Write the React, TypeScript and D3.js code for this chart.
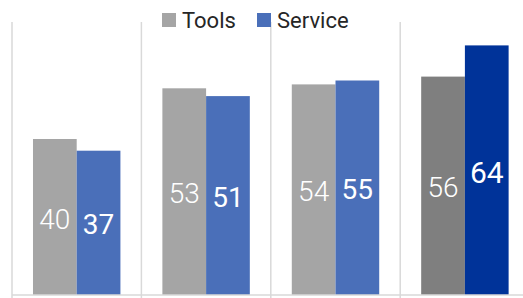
import React, { useEffect, useRef } from 'react';
import * as d3 from 'd3';

// groups (category names are cropped out of the picture)
const categories = ['G1', 'G2', 'G3', 'G4'];
const seriesNames = ['Tools', 'Service'];
const tools = [40, 53, 54, 56];
const service = [37, 51, 55, 64];

const App = () => {
    const svgRef = useRef<SVGSVGElement>(null);

    useEffect(() => {
        document.body.style.margin = '0';

        const width = 523;
        const height = 298;
        const svg = d3.select(svgRef.current);
        svg.selectAll('*').remove();
        svg.attr('width', width).attr('height', height);

        const font = "Roboto, 'Open Sans', sans-serif";
        const step = 129.4;
        const left = 12;

        const x0 = d3
            .scaleBand()
            .domain(categories)
            .range([left, left + step * categories.length])
            .padding(0);

        const x1 = d3
            .scaleBand()
            .domain(seriesNames)
            .range([0, x0.bandwidth()])
            .paddingInner(0)
            .paddingOuter(0.48);

        const y = d3.scaleLinear().domain([0, 70]).range([295, 22]);

        // normal colours, last group highlighted darker
        const colors = (s: string, i: number) => {
            const last = i === categories.length - 1;
            if (s === 'Tools') return last ? '#7f7f7f' : '#a5a5a5';
            return last ? '#003399' : '#4a6fb9';
        };

        // vertical separators
        const bounds = categories.map((c) => x0(c) as number);
        svg
            .append('g')
            .selectAll('line')
            .data(bounds)
            .join('line')
            .attr('x1', (d) => d)
            .attr('x2', (d) => d)
            .attr('y1', y(70))
            .attr('y2', height)
            .attr('stroke', '#d9d9d9')
            .attr('stroke-width', 1.5);

        const rows = categories.map((c, i) => ({
            cat: c,
            idx: i,
            vals: [
                { s: 'Tools', v: tools[i] },
                { s: 'Service', v: service[i] },
            ],
        }));

        const groups = svg
            .append('g')
            .selectAll('g')
            .data(rows)
            .join('g')
            .attr('transform', (d) => `translate(${x0(d.cat)},0)`);

        groups
            .selectAll('rect')
            .data((d) => d.vals.map((v) => ({ ...v, idx: d.idx })))
            .join('rect')
            .attr('x', (d) => x1(d.s) as number)
            .attr('y', (d) => y(d.v))
            .attr('width', x1.bandwidth())
            .attr('height', (d) => y(0) - y(d.v))
            .attr('fill', (d) => colors(d.s, d.idx));

        groups
            .selectAll('text')
            .data((d) => d.vals.map((v) => ({ ...v, idx: d.idx })))
            .join('text')
            .attr('x', (d) => (x1(d.s) as number) + x1.bandwidth() / 2)
            .attr('y', (d) => (y(d.v) + y(0)) / 2 + 2)
            .attr('text-anchor', 'middle')
            .attr('dominant-baseline', 'central')
            .attr('fill', '#fff')
            .attr('font-family', font)
            .attr('font-weight', (d) => (d.s === 'Tools' ? 300 : 400))
            .attr('font-size', (d) => (d.idx === 3 && d.s === 'Service' ? 30 : 28))
            .text((d) => d.v);

        // baseline
        svg
            .append('line')
            .attr('x1', left)
            .attr('x2', width)
            .attr('y1', y(0))
            .attr('y2', y(0))
            .attr('stroke', '#d9d9d9')
            .attr('stroke-width', 1.5);

        // legend
        const legendX = [162, 257];
        const legend = svg
            .append('g')
            .selectAll('g')
            .data(seriesNames)
            .join('g')
            .attr('transform', (d, i) => `translate(${legendX[i]},13)`);

        legend
            .append('rect')
            .attr('width', 14)
            .attr('height', 14)
            .attr('fill', (d) => colors(d, 0));

        legend
            .append('text')
            .attr('x', 20)
            .attr('y', 7)
            .attr('dominant-baseline', 'central')
            .attr('font-family', font)
            .attr('font-size', 22)
            .attr('fill', '#262626')
            .text((d) => d);
    }, []);

    return <svg ref={svgRef} style={{ display: 'block' }} />;
};

export default App;
